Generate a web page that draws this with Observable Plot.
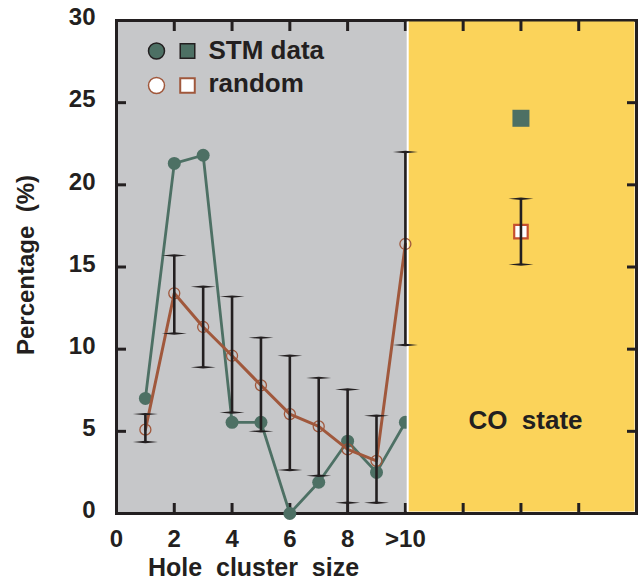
<!DOCTYPE html>
<html>
<head>
<meta charset="utf-8">
<script src="https://cdn.jsdelivr.net/npm/d3@7"></script>
<script src="https://cdn.jsdelivr.net/npm/@observablehq/plot@0.6"></script>
<style>
  html, body { margin: 0; padding: 0; background: #fff; }
</style>
</head>
<body>
<div id="chart"></div>
<script>
// ---- data ----
const sizes   = [1, 2, 3, 4, 5, 6, 7, 8, 9, 10];
const stm     = [7.0, 21.3, 21.8, 5.55, 5.55, 0.0, 1.9, 4.4, 2.5, 5.55];
const random  = [5.1, 13.4, 11.35, 9.6, 7.8, 6.05, 5.3, 3.9, 3.2, 16.4];
const errLow  = [4.35, 10.95, 8.9, 6.15, 5.0, 2.65, 2.3, 0.65, 0.65, 10.25];
const errHigh = [6.05, 15.7, 13.8, 13.2, 10.7, 9.6, 8.25, 7.55, 5.95, 22.0];

const coX      = [14];
const coStm    = [24.05];
const coRandom = [17.15];
const coLow    = [15.15];
const coHigh   = [19.15];

const xTickValues = [0, 2, 4, 6, 8, 10];
const xTickLabels = ["0", "2", "4", "6", "8", ">10"];
const yTickValues = [0, 5, 10, 15, 20, 25, 30];
const innerYTicks = [5, 10, 15, 20, 25];
const leftXTicks  = [2, 4, 6, 8, 10];
const rightXTicks = [12, 14, 16];

const panelGray   = [{x1: 0, x2: 10.08, y1: 0, y2: 30}];
const panelYellow = [{x1: 10.1, x2: 18, y1: 0, y2: 30}];
const divider     = [10.08];

const legendNames = ["STM data", "random"];

// ---- styles ----
const ink = "#231f20";
const gray = "#c6c7c9";
const yellow = "#fbd35a";
const green = "#4d7064";
const brown = "#a0583c";
const red = "#c5502f";
const FONT = "'Liberation Sans', Arial, Helvetica, sans-serif";

const rows = sizes.map((x, i) => ({x, stm: stm[i], random: random[i], lo: errLow[i], hi: errHigh[i]}));
const co = coX.map((x, i) => ({x, stm: coStm[i], random: coRandom[i], lo: coLow[i], hi: coHigh[i]}));
const errs = rows.concat(co);
const caps = errs.flatMap(d => [{x: d.x, y: d.lo}, {x: d.x, y: d.hi}]);

// tapered error-bar cap
const capSymbol = {
  draw(ctx) {
    const w = 12.5, h = 1.2;
    ctx.moveTo(-w, 0);
    ctx.lineTo(0, -h);
    ctx.lineTo(w, 0);
    ctx.lineTo(0, h);
    ctx.closePath();
  }
};

const tickOpts = {tickSize: -10, fill: "none", stroke: ink, strokeWidth: 3, label: null};
const txt = {fill: ink, fontWeight: "bold", lineAnchor: "middle"};

const chart = Plot.plot({
  width: 639,
  height: 581,
  marginLeft: 116,
  marginRight: 3,
  marginTop: 20,
  marginBottom: 68,
  x: {domain: [0, 18]},
  y: {domain: [0, 30]},
  style: {fontFamily: FONT, fontWeight: "bold", color: ink, background: "#fff", overflow: "visible"},
  marks: [
    Plot.rect(panelGray, {x1: "x1", x2: "x2", y1: "y1", y2: "y2", fill: gray}),
    Plot.frame({stroke: ink, strokeWidth: 3}),
    Plot.axisY(innerYTicks, {anchor: "left", ...tickOpts}),
    Plot.axisX(leftXTicks, {anchor: "bottom", ...tickOpts}),
    Plot.axisX(leftXTicks, {anchor: "top", ...tickOpts}),

    // STM data (drawn under the CO panel)
    Plot.line(rows, {x: "x", y: "stm", stroke: green, strokeWidth: 2.8}),
    Plot.dot(rows, {x: "x", y: "stm", r: 6.5, fill: green}),

    // CO state panel
    Plot.rect(panelYellow, {x1: "x1", x2: "x2", y1: "y1", y2: "y2", fill: yellow, insetTop: 1.5, insetBottom: 1.5, insetRight: 1.5}),
    Plot.ruleX(divider, {stroke: "#fff", strokeWidth: 2, insetTop: 1.5, insetBottom: 1.5}),
    Plot.axisY(innerYTicks, {anchor: "right", ...tickOpts}),
    Plot.axisX(rightXTicks, {anchor: "bottom", ...tickOpts}),
    Plot.axisX(rightXTicks, {anchor: "top", ...tickOpts}),

    // random
    Plot.line(rows, {x: "x", y: "random", stroke: brown, strokeWidth: 3}),
    Plot.dot(rows, {x: "x", y: "random", r: 5.5, fill: "none", stroke: brown, strokeWidth: 1.3}),

    // CO state squares
    Plot.dot(co, {x: "x", y: "stm", symbol: "square", r: 9.6, fill: green}),
    Plot.dot(co, {x: "x", y: "random", symbol: "square", r: 7.6, fill: "#fff", stroke: red, strokeWidth: 2.2}),

    // error bars
    Plot.ruleX(errs, {x: "x", y1: "lo", y2: "hi", stroke: ink, strokeWidth: 2.6}),
    Plot.dot(caps, {x: "x", y: "y", symbol: capSymbol, fill: ink, stroke: "none"}),

    // tick labels
    Plot.axisY(yTickValues, {anchor: "left", tickSize: 0, tickPadding: 21, fontSize: 24, fill: ink, dy: -3, label: null}),
    Plot.axisX(xTickValues, {anchor: "bottom", tickSize: 0, tickPadding: 16, fontSize: 24, fill: ink, label: null,
      tickFormat: (d) => xTickLabels[xTickValues.indexOf(d)]}),

    // axis titles
    Plot.text(["Percentage\u00a0 (%)"], {frameAnchor: "left", rotate: -90, textAnchor: "middle", dx: -90, dy: -2, fontSize: 24, ...txt}),
    Plot.text(["Hole\u00a0 cluster\u00a0 size"], {frameAnchor: "bottom", textAnchor: "middle", dx: -123, dy: 54, fontSize: 25, ...txt}),

    // legend
    Plot.dot([0], {frameAnchor: "top-left", dx: 40, dy: 30.5, r: 8, fill: green, stroke: ink, strokeWidth: 1.5}),
    Plot.dot([0], {frameAnchor: "top-left", dx: 71, dy: 30.5, symbol: "square", r: 8.2, fill: green, stroke: ink, strokeWidth: 1.5}),
    Plot.dot([0], {frameAnchor: "top-left", dx: 40, dy: 65, r: 8, fill: "#fff", stroke: brown, strokeWidth: 1.5}),
    Plot.dot([0], {frameAnchor: "top-left", dx: 71, dy: 65, symbol: "square", r: 8.2, fill: "#fff", stroke: brown, strokeWidth: 2}),
    Plot.text([legendNames[0]], {frameAnchor: "top-left", dx: 92, dy: 30, textAnchor: "start", fontSize: 26, ...txt}),
    Plot.text([legendNames[1]], {frameAnchor: "top-left", dx: 92, dy: 63, textAnchor: "start", fontSize: 26, ...txt}),

    // panel label
    Plot.text(["CO\u00a0 state"], {frameAnchor: "top-left", textAnchor: "middle", dx: 409, dy: 400, fontSize: 26, ...txt})
  ]
});

document.getElementById("chart").appendChild(chart);
</script>
</body>
</html>
